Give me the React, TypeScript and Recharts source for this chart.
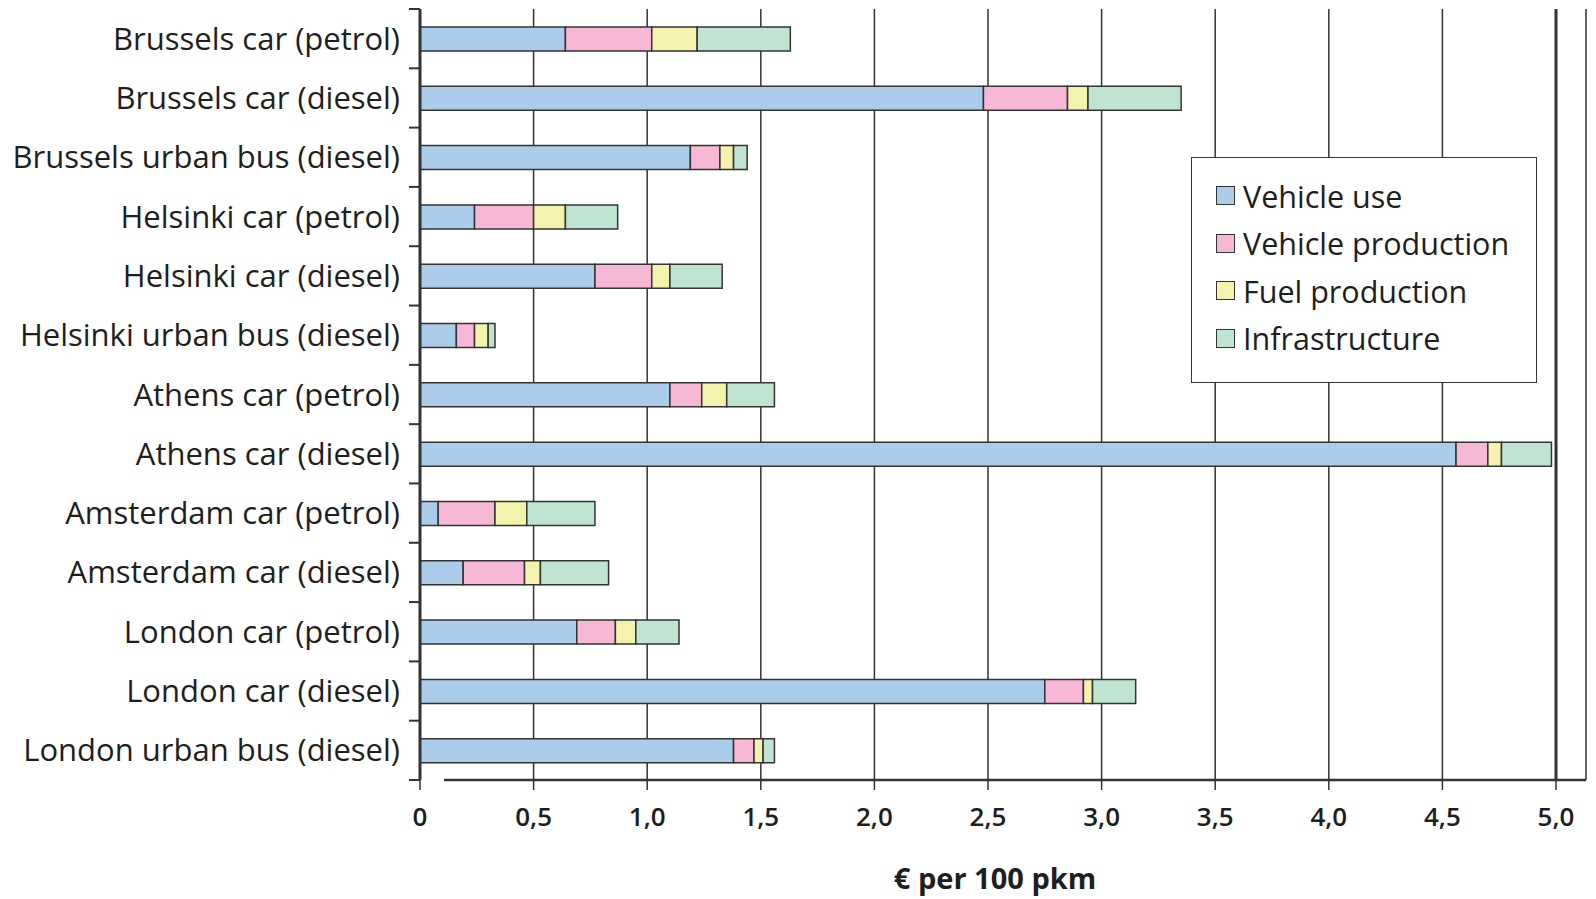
import React from 'react';
import { BarChart, Bar, XAxis, YAxis, CartesianGrid, Legend, ReferenceLine } from 'recharts';

const categories = [
  'Brussels car (petrol)',
  'Brussels car (diesel)',
  'Brussels urban bus (diesel)',
  'Helsinki car (petrol)',
  'Helsinki car (diesel)',
  'Helsinki urban bus (diesel)',
  'Athens car (petrol)',
  'Athens car (diesel)',
  'Amsterdam car (petrol)',
  'Amsterdam car (diesel)',
  'London car (petrol)',
  'London car (diesel)',
  'London urban bus (diesel)',
];
const vehicleUse = [0.64, 2.48, 1.19, 0.24, 0.77, 0.16, 1.10, 4.56, 0.08, 0.19, 0.69, 2.75, 1.38];
const vehicleProduction = [0.38, 0.37, 0.13, 0.26, 0.25, 0.08, 0.14, 0.14, 0.25, 0.27, 0.17, 0.17, 0.09];
const fuelProduction = [0.20, 0.09, 0.06, 0.14, 0.08, 0.06, 0.11, 0.06, 0.14, 0.07, 0.09, 0.04, 0.04];
const infrastructure = [0.41, 0.41, 0.06, 0.23, 0.23, 0.03, 0.21, 0.22, 0.30, 0.30, 0.19, 0.19, 0.05];
const xTicks = [0, 0.5, 1, 1.5, 2, 2.5, 3, 3.5, 4, 4.5, 5];

const seriesNames = ['Vehicle use', 'Vehicle production', 'Fuel production', 'Infrastructure'];
const seriesKeys = ['use', 'prod', 'fuel', 'infra'];
const seriesColors = ['#abcdeb', '#f6b8d4', '#f3f3ae', '#c0e4d2'];

const data = categories.map((name, i) => ({
  name,
  use: vehicleUse[i],
  prod: vehicleProduction[i],
  fuel: fuelProduction[i],
  infra: infrastructure[i],
}));

const FONT = '"Open Sans", sans-serif';
const INK = '#1e1e1e';
const LINE = '#333';
const LABEL_GAP = 20;

const fmt = (v: number) => (v === 0 ? '0' : v.toFixed(1).replace('.', ','));

const CategoryTick = (props: any) => {
  const { x, y, payload, index } = props;
  const half = payload && typeof payload.offset === 'number' ? payload.offset : 0;
  const axisX = x + LABEL_GAP;
  const last = index === categories.length - 1;
  return (
    <g>
      <line x1={axisX - 11} x2={axisX} y1={y - half} y2={y - half} stroke={LINE} strokeWidth={2} />
      {last && <line x1={axisX - 11} x2={axisX} y1={y + half} y2={y + half} stroke={LINE} strokeWidth={2} />}
      <text x={x} y={y} dy="0.355em" textAnchor="end" fill={INK} fontSize={31} fontFamily={FONT}>
        {payload.value}
      </text>
    </g>
  );
};

const LegendBox = () => (
  <div
    style={{
      width: 346,
      height: 226,
      border: `1.5px solid ${LINE}`,
      background: '#fff',
      boxSizing: 'border-box',
      paddingTop: 14,
      paddingLeft: 24,
      fontFamily: FONT,
      color: INK,
    }}
  >
    {seriesNames.map((n, i) => (
      <div key={n} style={{ display: 'flex', alignItems: 'center', height: 47.5 }}>
        <span
          style={{
            display: 'inline-block',
            width: 19,
            height: 19,
            background: seriesColors[i],
            border: `1.5px solid ${LINE}`,
            boxSizing: 'border-box',
            marginRight: 8,
          }}
        />
        <span style={{ fontSize: 30.5, lineHeight: '32px' }}>{n}</span>
      </div>
    ))}
  </div>
);

export default function App() {
  return (
    <BarChart
      width={1580}
      height={890}
      data={data}
      layout="vertical"
      margin={{ top: 1, right: 2, left: 0, bottom: 0 }}
      style={{ fontFamily: FONT }}
    >
      <CartesianGrid horizontal={false} vertical stroke={LINE} strokeWidth={1.5} />
      <XAxis
        type="number"
        domain={[0, 5.132]}
        allowDataOverflow
        ticks={xTicks}
        tickFormatter={fmt}
        interval={0}
        height={118}
        axisLine={{ stroke: LINE, strokeWidth: 2.5, strokeDasharray: '0 24 3000' }}
        tickLine={{ stroke: LINE, strokeWidth: 1.5 }}
        tickSize={10}
        tickMargin={18}
        tick={{ fill: INK, fontSize: 26, fontWeight: 600 }}
        label={{ value: '€ per 100 pkm', position: 'insideBottom', offset: 9, dx: -8, fill: INK, fontSize: 29, fontWeight: 700 }}
      />
      <XAxis
        xAxisId="top"
        orientation="top"
        type="number"
        domain={[0, 5.132]}
        allowDataOverflow
        height={0}
        tick={false}
        tickLine={false}
        axisLine={{ stroke: LINE, strokeWidth: 3, strokeDasharray: '1136 3000' }}
      />
      <YAxis
        type="category"
        dataKey="name"
        width={412}
        interval={0}
        axisLine={{ stroke: LINE, strokeWidth: 3 }}
        tickLine={false}
        tickSize={0}
        tickMargin={LABEL_GAP}
        tick={<CategoryTick />}
      />
      <ReferenceLine x={5} stroke={LINE} strokeWidth={3} />
      <Legend
        layout="horizontal"
        verticalAlign="middle"
        align="center"
        wrapperStyle={{ position: 'absolute', top: 149, left: 1183, width: 346, height: 226 }}
        content={() => <LegendBox />}
      />
      {seriesKeys.map((k, i) => (
        <Bar
          key={k}
          dataKey={k}
          name={seriesNames[i]}
          stackId="a"
          fill={seriesColors[i]}
          stroke={LINE}
          strokeWidth={1.5}
          barSize={24}
          isAnimationActive={false}
        />
      ))}
    </BarChart>
  );
}
